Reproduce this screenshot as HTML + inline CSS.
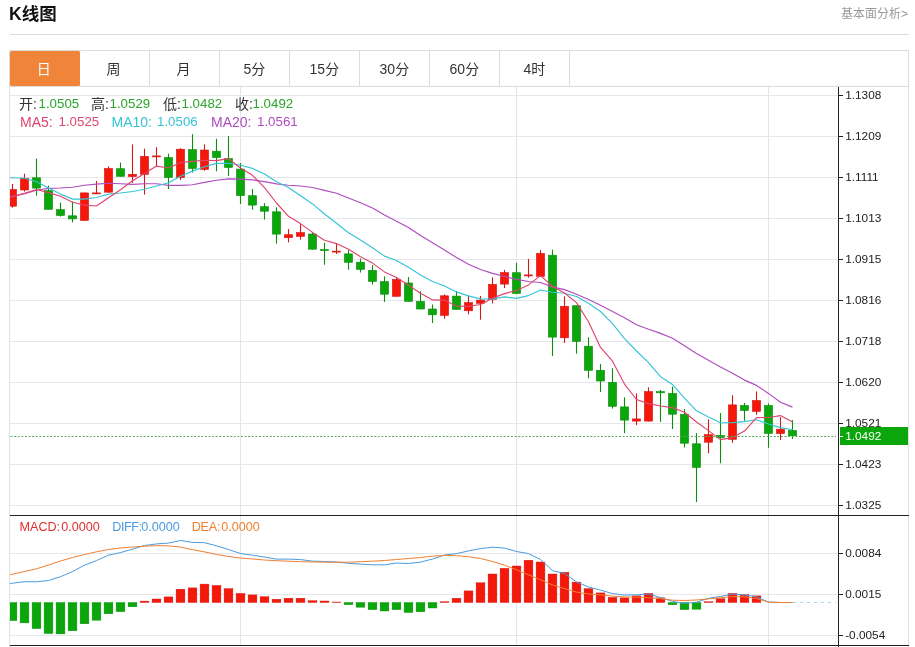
<!DOCTYPE html>
<html lang="zh-CN"><head><meta charset="utf-8"><title>K线图</title>
<style>
html,body{margin:0;padding:0;background:#fff}
body{width:915px;height:647px;position:relative;overflow:hidden;font-family:"Liberation Sans","Noto Sans CJK SC",sans-serif;color:#333}
.title{position:absolute;left:9px;top:2.2px;font-size:17.5px;font-weight:bold;color:#111;line-height:24px;white-space:nowrap}
.more{position:absolute;right:7px;top:5.5px;font-size:12px;color:#999;line-height:16px;white-space:nowrap}
.rule{position:absolute;left:10px;top:34px;width:899px;height:1px;background:#dcdcdc}
.tabs{position:absolute;left:9px;top:50px;width:898px;height:35px;border:1px solid #dcdcdc;}
.tab{position:absolute;top:0;width:69px;height:35px;border-right:1px solid #dcdcdc;text-align:center;line-height:36.4px;font-size:14px;color:#333}
.tab.on{background:#f0853a;color:#fff;left:0!important;top:-0.3px;width:69.5px;height:35.5px;border-right:0;border-radius:1.5px;line-height:37px}
.t{position:absolute;white-space:nowrap;line-height:16px;font-size:13.3px}
.c{font-size:14px}
.s{font-size:12.6px}
.g{color:#2aa52a}
</style></head><body>
<div class="title">K线图</div>
<div class="more">基本面分析&gt;</div>
<div class="rule"></div>
<svg width="915" height="647" viewBox="0 0 915 647" style="position:absolute;left:0;top:0">
<defs><clipPath id="cp"><rect x="10" y="87" width="828" height="560"/></clipPath></defs>
<g stroke="#e5e7ea" stroke-width="1" shape-rendering="crispEdges">
<line x1="10" y1="95.5" x2="838" y2="95.5"/>
<line x1="10" y1="136.5" x2="838" y2="136.5"/>
<line x1="10" y1="177.5" x2="838" y2="177.5"/>
<line x1="10" y1="218.5" x2="838" y2="218.5"/>
<line x1="10" y1="259.5" x2="838" y2="259.5"/>
<line x1="10" y1="300.5" x2="838" y2="300.5"/>
<line x1="10" y1="341.5" x2="838" y2="341.5"/>
<line x1="10" y1="382.5" x2="838" y2="382.5"/>
<line x1="10" y1="423.5" x2="838" y2="423.5"/>
<line x1="10" y1="464.5" x2="838" y2="464.5"/>
<line x1="10" y1="505.5" x2="838" y2="505.5"/>
<line x1="10" y1="553.5" x2="838" y2="553.5"/>
<line x1="10" y1="594.5" x2="838" y2="594.5"/>
<line x1="10" y1="635.5" x2="838" y2="635.5"/>
</g>
<g stroke="#e2e5ec" stroke-width="1" shape-rendering="crispEdges">
<line x1="240.5" y1="87" x2="240.5" y2="645"/>
<line x1="516.5" y1="87" x2="516.5" y2="645"/>
<line x1="768.5" y1="87" x2="768.5" y2="645"/>
</g>
<g stroke="#e2e2e2" stroke-width="1" shape-rendering="crispEdges"><line x1="9.5" y1="86" x2="9.5" y2="647"/><line x1="908.5" y1="50" x2="908.5" y2="647"/></g>
<g clip-path="url(#cp)">
<line x1="12.5" y1="184" x2="12.5" y2="207.7" stroke="#d81414" stroke-width="1.1"/>
<rect x="8.4" y="189.5" width="8.2" height="16.7" fill="#f3180a" stroke="#d81414" stroke-width="0.6"/>
<line x1="24.5" y1="173.7" x2="24.5" y2="191.5" stroke="#d81414" stroke-width="1.1"/>
<rect x="20.4" y="178.2" width="8.2" height="11.8" fill="#f3180a" stroke="#d81414" stroke-width="0.6"/>
<line x1="36.5" y1="158.6" x2="36.5" y2="195.7" stroke="#0a8f0a" stroke-width="1.1"/>
<rect x="32.4" y="177.8" width="8.2" height="10.3" fill="#0ba60b" stroke="#0a8f0a" stroke-width="0.6"/>
<line x1="48.5" y1="185.6" x2="48.5" y2="209.6" stroke="#0a8f0a" stroke-width="1.1"/>
<rect x="44.4" y="190.6" width="8.2" height="18.7" fill="#0ba60b" stroke="#0a8f0a" stroke-width="0.6"/>
<line x1="60.5" y1="202.6" x2="60.5" y2="216.6" stroke="#0a8f0a" stroke-width="1.1"/>
<rect x="56.4" y="209.6" width="8.2" height="5.9" fill="#0ba60b" stroke="#0a8f0a" stroke-width="0.6"/>
<line x1="72.5" y1="201.4" x2="72.5" y2="222.3" stroke="#0a8f0a" stroke-width="1.1"/>
<rect x="68.4" y="215.8" width="8.2" height="3.1" fill="#0ba60b" stroke="#0a8f0a" stroke-width="0.6"/>
<line x1="84.5" y1="192.6" x2="84.5" y2="220.7" stroke="#d81414" stroke-width="1.1"/>
<rect x="80.4" y="192.9" width="8.2" height="27.5" fill="#f3180a" stroke="#d81414" stroke-width="0.6"/>
<line x1="96.5" y1="181" x2="96.5" y2="194.1" stroke="#d81414" stroke-width="1.1"/>
<rect x="92.4" y="192.9" width="8.2" height="1" fill="#f3180a" stroke="#d81414" stroke-width="0.6"/>
<line x1="108.5" y1="166.3" x2="108.5" y2="192.5" stroke="#d81414" stroke-width="1.1"/>
<rect x="104.4" y="168.5" width="8.2" height="23.7" fill="#f3180a" stroke="#d81414" stroke-width="0.6"/>
<line x1="120.5" y1="162.5" x2="120.5" y2="176.6" stroke="#0a8f0a" stroke-width="1.1"/>
<rect x="116.4" y="168.7" width="8.2" height="7.6" fill="#0ba60b" stroke="#0a8f0a" stroke-width="0.6"/>
<line x1="132.5" y1="144.4" x2="132.5" y2="182.8" stroke="#d81414" stroke-width="1.1"/>
<rect x="128.4" y="174.3" width="8.2" height="2.3" fill="#f3180a" stroke="#d81414" stroke-width="0.6"/>
<line x1="144.5" y1="148.7" x2="144.5" y2="194.6" stroke="#d81414" stroke-width="1.1"/>
<rect x="140.4" y="156.4" width="8.2" height="18" fill="#f3180a" stroke="#d81414" stroke-width="0.6"/>
<line x1="156.5" y1="147.3" x2="156.5" y2="166" stroke="#d81414" stroke-width="1.1"/>
<rect x="152.4" y="155.9" width="8.2" height="1" fill="#f3180a" stroke="#d81414" stroke-width="0.6"/>
<line x1="168.5" y1="153.6" x2="168.5" y2="189" stroke="#0a8f0a" stroke-width="1.1"/>
<rect x="164.4" y="157.5" width="8.2" height="20" fill="#0ba60b" stroke="#0a8f0a" stroke-width="0.6"/>
<line x1="180.5" y1="148.3" x2="180.5" y2="180" stroke="#d81414" stroke-width="1.1"/>
<rect x="176.4" y="149.2" width="8.2" height="28.3" fill="#f3180a" stroke="#d81414" stroke-width="0.6"/>
<line x1="192.5" y1="134.2" x2="192.5" y2="172.6" stroke="#0a8f0a" stroke-width="1.1"/>
<rect x="188.4" y="149.6" width="8.2" height="18.9" fill="#0ba60b" stroke="#0a8f0a" stroke-width="0.6"/>
<line x1="204.5" y1="144.4" x2="204.5" y2="170.7" stroke="#d81414" stroke-width="1.1"/>
<rect x="200.4" y="150" width="8.2" height="19.4" fill="#f3180a" stroke="#d81414" stroke-width="0.6"/>
<line x1="216.5" y1="138.8" x2="216.5" y2="171.3" stroke="#0a8f0a" stroke-width="1.1"/>
<rect x="212.4" y="151.2" width="8.2" height="6.4" fill="#0ba60b" stroke="#0a8f0a" stroke-width="0.6"/>
<line x1="228.5" y1="136.1" x2="228.5" y2="175.9" stroke="#0a8f0a" stroke-width="1.1"/>
<rect x="224.4" y="158.5" width="8.2" height="8.9" fill="#0ba60b" stroke="#0a8f0a" stroke-width="0.6"/>
<line x1="240.5" y1="163" x2="240.5" y2="204" stroke="#0a8f0a" stroke-width="1.1"/>
<rect x="236.4" y="169.1" width="8.2" height="26.5" fill="#0ba60b" stroke="#0a8f0a" stroke-width="0.6"/>
<line x1="252.5" y1="189" x2="252.5" y2="209.7" stroke="#0a8f0a" stroke-width="1.1"/>
<rect x="248.4" y="195.7" width="8.2" height="9.4" fill="#0ba60b" stroke="#0a8f0a" stroke-width="0.6"/>
<line x1="264.5" y1="203.2" x2="264.5" y2="219.5" stroke="#0a8f0a" stroke-width="1.1"/>
<rect x="260.4" y="206.7" width="8.2" height="4.5" fill="#0ba60b" stroke="#0a8f0a" stroke-width="0.6"/>
<line x1="276.5" y1="207.3" x2="276.5" y2="243.6" stroke="#0a8f0a" stroke-width="1.1"/>
<rect x="272.4" y="211.8" width="8.2" height="22.3" fill="#0ba60b" stroke="#0a8f0a" stroke-width="0.6"/>
<line x1="288.5" y1="229.1" x2="288.5" y2="242.4" stroke="#d81414" stroke-width="1.1"/>
<rect x="284.4" y="234.7" width="8.2" height="3" fill="#f3180a" stroke="#d81414" stroke-width="0.6"/>
<line x1="300.5" y1="224.2" x2="300.5" y2="239.5" stroke="#d81414" stroke-width="1.1"/>
<rect x="296.4" y="232.6" width="8.2" height="3.8" fill="#f3180a" stroke="#d81414" stroke-width="0.6"/>
<line x1="312.5" y1="232.3" x2="312.5" y2="249.5" stroke="#0a8f0a" stroke-width="1.1"/>
<rect x="308.4" y="234" width="8.2" height="15.2" fill="#0ba60b" stroke="#0a8f0a" stroke-width="0.6"/>
<line x1="324.5" y1="242.7" x2="324.5" y2="264.7" stroke="#0a8f0a" stroke-width="1.1"/>
<rect x="320.4" y="249.6" width="8.2" height="1" fill="#0ba60b" stroke="#0a8f0a" stroke-width="0.6"/>
<line x1="336.5" y1="243.4" x2="336.5" y2="254" stroke="#d81414" stroke-width="1.1"/>
<rect x="332.4" y="251.1" width="8.2" height="1" fill="#f3180a" stroke="#d81414" stroke-width="0.6"/>
<line x1="348.5" y1="250.2" x2="348.5" y2="269.7" stroke="#0a8f0a" stroke-width="1.1"/>
<rect x="344.4" y="253.9" width="8.2" height="8.4" fill="#0ba60b" stroke="#0a8f0a" stroke-width="0.6"/>
<line x1="360.5" y1="258.6" x2="360.5" y2="272.5" stroke="#0a8f0a" stroke-width="1.1"/>
<rect x="356.4" y="262.2" width="8.2" height="7.2" fill="#0ba60b" stroke="#0a8f0a" stroke-width="0.6"/>
<line x1="372.5" y1="265.1" x2="372.5" y2="284.6" stroke="#0a8f0a" stroke-width="1.1"/>
<rect x="368.4" y="270.4" width="8.2" height="11" fill="#0ba60b" stroke="#0a8f0a" stroke-width="0.6"/>
<line x1="384.5" y1="276.3" x2="384.5" y2="301.9" stroke="#0a8f0a" stroke-width="1.1"/>
<rect x="380.4" y="281.6" width="8.2" height="12.6" fill="#0ba60b" stroke="#0a8f0a" stroke-width="0.6"/>
<line x1="396.5" y1="277.7" x2="396.5" y2="296.6" stroke="#d81414" stroke-width="1.1"/>
<rect x="392.4" y="279.4" width="8.2" height="16.9" fill="#f3180a" stroke="#d81414" stroke-width="0.6"/>
<line x1="408.5" y1="277" x2="408.5" y2="301.6" stroke="#0a8f0a" stroke-width="1.1"/>
<rect x="404.4" y="283" width="8.2" height="18.3" fill="#0ba60b" stroke="#0a8f0a" stroke-width="0.6"/>
<line x1="420.5" y1="291.2" x2="420.5" y2="309.3" stroke="#0a8f0a" stroke-width="1.1"/>
<rect x="416.4" y="301.5" width="8.2" height="7.5" fill="#0ba60b" stroke="#0a8f0a" stroke-width="0.6"/>
<line x1="432.5" y1="304.5" x2="432.5" y2="323" stroke="#0a8f0a" stroke-width="1.1"/>
<rect x="428.4" y="309" width="8.2" height="5.8" fill="#0ba60b" stroke="#0a8f0a" stroke-width="0.6"/>
<line x1="444.5" y1="294.5" x2="444.5" y2="318.7" stroke="#d81414" stroke-width="1.1"/>
<rect x="440.4" y="295.8" width="8.2" height="19.6" fill="#f3180a" stroke="#d81414" stroke-width="0.6"/>
<line x1="456.5" y1="291" x2="456.5" y2="309.7" stroke="#0a8f0a" stroke-width="1.1"/>
<rect x="452.4" y="296.1" width="8.2" height="13.3" fill="#0ba60b" stroke="#0a8f0a" stroke-width="0.6"/>
<line x1="468.5" y1="295.9" x2="468.5" y2="314.3" stroke="#d81414" stroke-width="1.1"/>
<rect x="464.4" y="302.6" width="8.2" height="8.2" fill="#f3180a" stroke="#d81414" stroke-width="0.6"/>
<line x1="480.5" y1="295.9" x2="480.5" y2="319.7" stroke="#d81414" stroke-width="1.1"/>
<rect x="476.4" y="300.1" width="8.2" height="3.2" fill="#f3180a" stroke="#d81414" stroke-width="0.6"/>
<line x1="492.5" y1="277.3" x2="492.5" y2="303.3" stroke="#d81414" stroke-width="1.1"/>
<rect x="488.4" y="284.4" width="8.2" height="15.1" fill="#f3180a" stroke="#d81414" stroke-width="0.6"/>
<line x1="504.5" y1="269.9" x2="504.5" y2="288.1" stroke="#d81414" stroke-width="1.1"/>
<rect x="500.4" y="272.6" width="8.2" height="11.5" fill="#f3180a" stroke="#d81414" stroke-width="0.6"/>
<line x1="516.5" y1="262.8" x2="516.5" y2="293.8" stroke="#0a8f0a" stroke-width="1.1"/>
<rect x="512.4" y="272.7" width="8.2" height="20.8" fill="#0ba60b" stroke="#0a8f0a" stroke-width="0.6"/>
<line x1="528.5" y1="258.9" x2="528.5" y2="277.7" stroke="#d81414" stroke-width="1.1"/>
<rect x="524.4" y="274.9" width="8.2" height="1" fill="#f3180a" stroke="#d81414" stroke-width="0.6"/>
<line x1="540.5" y1="250" x2="540.5" y2="276.7" stroke="#d81414" stroke-width="1.1"/>
<rect x="536.4" y="253.4" width="8.2" height="23" fill="#f3180a" stroke="#d81414" stroke-width="0.6"/>
<line x1="552.5" y1="249.7" x2="552.5" y2="355.9" stroke="#0a8f0a" stroke-width="1.1"/>
<rect x="548.4" y="255.2" width="8.2" height="81.9" fill="#0ba60b" stroke="#0a8f0a" stroke-width="0.6"/>
<line x1="564.5" y1="296.4" x2="564.5" y2="342.9" stroke="#d81414" stroke-width="1.1"/>
<rect x="560.4" y="306.3" width="8.2" height="31.5" fill="#f3180a" stroke="#d81414" stroke-width="0.6"/>
<line x1="576.5" y1="305.4" x2="576.5" y2="353.7" stroke="#0a8f0a" stroke-width="1.1"/>
<rect x="572.4" y="305.7" width="8.2" height="35.7" fill="#0ba60b" stroke="#0a8f0a" stroke-width="0.6"/>
<line x1="588.5" y1="337.2" x2="588.5" y2="378.2" stroke="#0a8f0a" stroke-width="1.1"/>
<rect x="584.4" y="346.2" width="8.2" height="24.1" fill="#0ba60b" stroke="#0a8f0a" stroke-width="0.6"/>
<line x1="600.5" y1="364.1" x2="600.5" y2="392" stroke="#0a8f0a" stroke-width="1.1"/>
<rect x="596.4" y="370.3" width="8.2" height="10.7" fill="#0ba60b" stroke="#0a8f0a" stroke-width="0.6"/>
<line x1="612.5" y1="368.2" x2="612.5" y2="408.6" stroke="#0a8f0a" stroke-width="1.1"/>
<rect x="608.4" y="382.3" width="8.2" height="24" fill="#0ba60b" stroke="#0a8f0a" stroke-width="0.6"/>
<line x1="624.5" y1="397.4" x2="624.5" y2="433.2" stroke="#0a8f0a" stroke-width="1.1"/>
<rect x="620.4" y="406.9" width="8.2" height="13.2" fill="#0ba60b" stroke="#0a8f0a" stroke-width="0.6"/>
<line x1="636.5" y1="393.4" x2="636.5" y2="425.1" stroke="#d81414" stroke-width="1.1"/>
<rect x="632.4" y="418.9" width="8.2" height="2.2" fill="#f3180a" stroke="#d81414" stroke-width="0.6"/>
<line x1="648.5" y1="387.4" x2="648.5" y2="421.4" stroke="#d81414" stroke-width="1.1"/>
<rect x="644.4" y="391.6" width="8.2" height="29.5" fill="#f3180a" stroke="#d81414" stroke-width="0.6"/>
<line x1="660.5" y1="389.9" x2="660.5" y2="421.9" stroke="#0a8f0a" stroke-width="1.1"/>
<rect x="656.4" y="391.6" width="8.2" height="1.2" fill="#0ba60b" stroke="#0a8f0a" stroke-width="0.6"/>
<line x1="672.5" y1="386.6" x2="672.5" y2="429" stroke="#0a8f0a" stroke-width="1.1"/>
<rect x="668.4" y="393.4" width="8.2" height="20.8" fill="#0ba60b" stroke="#0a8f0a" stroke-width="0.6"/>
<line x1="684.5" y1="409" x2="684.5" y2="447.5" stroke="#0a8f0a" stroke-width="1.1"/>
<rect x="680.4" y="414.3" width="8.2" height="28.9" fill="#0ba60b" stroke="#0a8f0a" stroke-width="0.6"/>
<line x1="696.5" y1="433.1" x2="696.5" y2="502.1" stroke="#0a8f0a" stroke-width="1.1"/>
<rect x="692.4" y="443.8" width="8.2" height="23.6" fill="#0ba60b" stroke="#0a8f0a" stroke-width="0.6"/>
<line x1="708.5" y1="419.4" x2="708.5" y2="453.3" stroke="#d81414" stroke-width="1.1"/>
<rect x="704.4" y="434.6" width="8.2" height="7.6" fill="#f3180a" stroke="#d81414" stroke-width="0.6"/>
<line x1="720.5" y1="413.1" x2="720.5" y2="463.2" stroke="#0a8f0a" stroke-width="1.1"/>
<rect x="716.4" y="435.3" width="8.2" height="2.4" fill="#0ba60b" stroke="#0a8f0a" stroke-width="0.6"/>
<line x1="732.5" y1="395.3" x2="732.5" y2="442.8" stroke="#d81414" stroke-width="1.1"/>
<rect x="728.4" y="404.9" width="8.2" height="34.4" fill="#f3180a" stroke="#d81414" stroke-width="0.6"/>
<line x1="744.5" y1="403" x2="744.5" y2="420.8" stroke="#0a8f0a" stroke-width="1.1"/>
<rect x="740.4" y="405.5" width="8.2" height="5" fill="#0ba60b" stroke="#0a8f0a" stroke-width="0.6"/>
<line x1="756.5" y1="391.4" x2="756.5" y2="414.8" stroke="#d81414" stroke-width="1.1"/>
<rect x="752.4" y="400.5" width="8.2" height="10.9" fill="#f3180a" stroke="#d81414" stroke-width="0.6"/>
<line x1="768.5" y1="403.4" x2="768.5" y2="447.8" stroke="#0a8f0a" stroke-width="1.1"/>
<rect x="764.4" y="405.5" width="8.2" height="27.9" fill="#0ba60b" stroke="#0a8f0a" stroke-width="0.6"/>
<line x1="780.5" y1="417.2" x2="780.5" y2="440" stroke="#d81414" stroke-width="1.1"/>
<rect x="776.4" y="429.2" width="8.2" height="4.4" fill="#f3180a" stroke="#d81414" stroke-width="0.6"/>
<line x1="792.5" y1="420.1" x2="792.5" y2="439" stroke="#0a8f0a" stroke-width="1.1"/>
<rect x="788.4" y="430.5" width="8.2" height="5.3" fill="#0ba60b" stroke="#0a8f0a" stroke-width="0.6"/>
<polyline fill="none" stroke="#b04cc0" stroke-width="1.15" stroke-linejoin="round" points="10,197.2 12.5,196.5 24.5,193.7 36.5,190.3 48.5,188.4 60.5,188 72.5,187.2 84.5,185.3 96.5,184.1 108.5,183.3 120.5,183.7 132.5,184.4 144.5,183.7 156.5,183.7 168.5,185.4 180.5,185.4 192.5,184.8 204.5,182.4 216.5,180.2 228.5,178.9 240.5,179.1 252.5,179.9 264.5,181.6 276.5,183.9 288.5,185.2 300.5,186 312.5,187.5 324.5,190.4 336.5,193.3 348.5,198 360.5,202.7 372.5,208.1 384.5,215 396.5,221.2 408.5,227.4 420.5,235.4 432.5,242.7 444.5,250 456.5,257.6 468.5,264.3 480.5,269.5 492.5,273.4 504.5,276.5 516.5,279.4 528.5,281.5 540.5,282.5 552.5,286.9 564.5,289.6 576.5,294.2 588.5,299.6 600.5,305.2 612.5,311.4 624.5,317.7 636.5,324.7 648.5,329.2 660.5,333.4 672.5,338.3 684.5,345.7 696.5,353.6 708.5,360.2 720.5,367.1 732.5,373.2 744.5,380.1 756.5,385.4 768.5,393.4 780.5,402.2 792.5,407.1"/>
<polyline fill="none" stroke="#35c4d8" stroke-width="1.15" stroke-linejoin="round" points="10,177.6 12.5,177.7 24.5,178.2 36.5,181.8 48.5,188 60.5,194.1 72.5,199.1 84.5,199.1 96.5,197.5 108.5,194.1 120.5,193 132.5,191.5 144.5,189.3 156.5,186 168.5,182.8 180.5,176.2 192.5,171.1 204.5,166.8 216.5,163.4 228.5,163.3 240.5,165.2 252.5,168.4 264.5,173.9 276.5,181.8 288.5,187.5 300.5,195.8 312.5,203.9 324.5,214 336.5,223.3 348.5,232.8 360.5,240.1 372.5,247.8 384.5,256.1 396.5,260.5 408.5,267.3 420.5,275 432.5,281.5 444.5,286 456.5,291.9 468.5,295.9 480.5,298.9 492.5,299.1 504.5,296.9 516.5,298.4 528.5,295.6 540.5,290 552.5,292.3 564.5,293.3 576.5,296.5 588.5,303.3 600.5,311.5 612.5,323.7 624.5,338.6 636.5,351 648.5,362.7 660.5,376.7 672.5,384.4 684.5,398.2 696.5,410.8 708.5,417.1 720.5,422.8 732.5,422.6 744.5,421.6 756.5,419.8 768.5,424 780.5,427.6 792.5,429.8"/>
<polyline fill="none" stroke="#e0456f" stroke-width="1.15" stroke-linejoin="round" points="10,197.2 12.5,196.5 24.5,193.4 36.5,189.5 48.5,192.6 60.5,196.2 72.5,202.2 84.5,205.1 96.5,206 108.5,197.7 120.5,189.8 132.5,180.8 144.5,173.5 156.5,166.1 168.5,168 180.5,162.5 192.5,161.4 204.5,160.2 216.5,160.6 228.5,158.6 240.5,168 252.5,175.3 264.5,187.7 276.5,203 288.5,216.3 300.5,223.6 312.5,232.4 324.5,240.3 336.5,243.6 348.5,249.2 360.5,256.7 372.5,263.1 384.5,271.9 396.5,277.5 408.5,285.3 420.5,293.2 432.5,299.9 444.5,300.1 456.5,306.2 468.5,306.4 480.5,304.5 492.5,298.3 504.5,293.6 516.5,290.5 528.5,284.9 540.5,275.6 552.5,286.2 564.5,293 576.5,302.6 588.5,321.8 600.5,347.4 612.5,361.2 624.5,384.1 636.5,399.5 648.5,403.6 660.5,406 672.5,407.6 684.5,412.2 696.5,422 708.5,430.6 720.5,439.6 732.5,437.6 744.5,431.1 756.5,417.6 768.5,417.5 780.5,415.6 792.5,421.9"/>
<rect x="8.1" y="602.5" width="8.8" height="18.1" fill="#0ba60b" stroke="#0a8f0a" stroke-width="0.4"/>
<rect x="20.1" y="602.5" width="8.8" height="20.4" fill="#0ba60b" stroke="#0a8f0a" stroke-width="0.4"/>
<rect x="32.1" y="602.5" width="8.8" height="26.1" fill="#0ba60b" stroke="#0a8f0a" stroke-width="0.4"/>
<rect x="44.1" y="602.5" width="8.8" height="31" fill="#0ba60b" stroke="#0a8f0a" stroke-width="0.4"/>
<rect x="56.1" y="602.5" width="8.8" height="31.4" fill="#0ba60b" stroke="#0a8f0a" stroke-width="0.4"/>
<rect x="68.1" y="602.5" width="8.8" height="28.3" fill="#0ba60b" stroke="#0a8f0a" stroke-width="0.4"/>
<rect x="80.1" y="602.5" width="8.8" height="21.3" fill="#0ba60b" stroke="#0a8f0a" stroke-width="0.4"/>
<rect x="92.1" y="602.5" width="8.8" height="17.7" fill="#0ba60b" stroke="#0a8f0a" stroke-width="0.4"/>
<rect x="104.1" y="602.5" width="8.8" height="11.3" fill="#0ba60b" stroke="#0a8f0a" stroke-width="0.4"/>
<rect x="116.1" y="602.5" width="8.8" height="9.2" fill="#0ba60b" stroke="#0a8f0a" stroke-width="0.4"/>
<rect x="128.1" y="602.5" width="8.8" height="4.3" fill="#0ba60b" stroke="#0a8f0a" stroke-width="0.4"/>
<rect x="140.1" y="601.1" width="8.8" height="1.4" fill="#f3180a" stroke="#d81414" stroke-width="0.4"/>
<rect x="152.1" y="599" width="8.8" height="3.5" fill="#f3180a" stroke="#d81414" stroke-width="0.4"/>
<rect x="164.1" y="596.9" width="8.8" height="5.6" fill="#f3180a" stroke="#d81414" stroke-width="0.4"/>
<rect x="176.1" y="589.2" width="8.8" height="13.3" fill="#f3180a" stroke="#d81414" stroke-width="0.4"/>
<rect x="188.1" y="587.9" width="8.8" height="14.6" fill="#f3180a" stroke="#d81414" stroke-width="0.4"/>
<rect x="200.1" y="584.1" width="8.8" height="18.4" fill="#f3180a" stroke="#d81414" stroke-width="0.4"/>
<rect x="212.1" y="585.4" width="8.8" height="17.1" fill="#f3180a" stroke="#d81414" stroke-width="0.4"/>
<rect x="224.1" y="588.6" width="8.8" height="13.9" fill="#f3180a" stroke="#d81414" stroke-width="0.4"/>
<rect x="236.1" y="593.4" width="8.8" height="9.1" fill="#f3180a" stroke="#d81414" stroke-width="0.4"/>
<rect x="248.1" y="594.9" width="8.8" height="7.6" fill="#f3180a" stroke="#d81414" stroke-width="0.4"/>
<rect x="260.1" y="596.7" width="8.8" height="5.8" fill="#f3180a" stroke="#d81414" stroke-width="0.4"/>
<rect x="272.1" y="599.2" width="8.8" height="3.3" fill="#f3180a" stroke="#d81414" stroke-width="0.4"/>
<rect x="284.1" y="598.2" width="8.8" height="4.3" fill="#f3180a" stroke="#d81414" stroke-width="0.4"/>
<rect x="296.1" y="598.2" width="8.8" height="4.3" fill="#f3180a" stroke="#d81414" stroke-width="0.4"/>
<rect x="308.1" y="600.7" width="8.8" height="1.8" fill="#f3180a" stroke="#d81414" stroke-width="0.4"/>
<rect x="320.1" y="601" width="8.8" height="1.5" fill="#f3180a" stroke="#d81414" stroke-width="0.4"/>
<rect x="332.1" y="602" width="8.8" height="0.5" fill="#f3180a" stroke="#d81414" stroke-width="0.4"/>
<rect x="344.1" y="602.5" width="8.8" height="2.2" fill="#0ba60b" stroke="#0a8f0a" stroke-width="0.4"/>
<rect x="356.1" y="602.5" width="8.8" height="4.7" fill="#0ba60b" stroke="#0a8f0a" stroke-width="0.4"/>
<rect x="368.1" y="602.5" width="8.8" height="7.2" fill="#0ba60b" stroke="#0a8f0a" stroke-width="0.4"/>
<rect x="380.1" y="602.5" width="8.8" height="8.5" fill="#0ba60b" stroke="#0a8f0a" stroke-width="0.4"/>
<rect x="392.1" y="602.5" width="8.8" height="7.2" fill="#0ba60b" stroke="#0a8f0a" stroke-width="0.4"/>
<rect x="404.1" y="602.5" width="8.8" height="10" fill="#0ba60b" stroke="#0a8f0a" stroke-width="0.4"/>
<rect x="416.1" y="602.5" width="8.8" height="9.3" fill="#0ba60b" stroke="#0a8f0a" stroke-width="0.4"/>
<rect x="428.1" y="602.5" width="8.8" height="5.5" fill="#0ba60b" stroke="#0a8f0a" stroke-width="0.4"/>
<rect x="440.1" y="601.7" width="8.8" height="0.8" fill="#f3180a" stroke="#d81414" stroke-width="0.4"/>
<rect x="452.1" y="598.2" width="8.8" height="4.3" fill="#f3180a" stroke="#d81414" stroke-width="0.4"/>
<rect x="464.1" y="590.9" width="8.8" height="11.6" fill="#f3180a" stroke="#d81414" stroke-width="0.4"/>
<rect x="476.1" y="582.8" width="8.8" height="19.7" fill="#f3180a" stroke="#d81414" stroke-width="0.4"/>
<rect x="488.1" y="574" width="8.8" height="28.5" fill="#f3180a" stroke="#d81414" stroke-width="0.4"/>
<rect x="500.1" y="568.3" width="8.8" height="34.2" fill="#f3180a" stroke="#d81414" stroke-width="0.4"/>
<rect x="512.1" y="566" width="8.8" height="36.5" fill="#f3180a" stroke="#d81414" stroke-width="0.4"/>
<rect x="524.1" y="560.2" width="8.8" height="42.3" fill="#f3180a" stroke="#d81414" stroke-width="0.4"/>
<rect x="536.1" y="562" width="8.8" height="40.5" fill="#f3180a" stroke="#d81414" stroke-width="0.4"/>
<rect x="548.1" y="574" width="8.8" height="28.5" fill="#f3180a" stroke="#d81414" stroke-width="0.4"/>
<rect x="560.1" y="572.3" width="8.8" height="30.2" fill="#f3180a" stroke="#d81414" stroke-width="0.4"/>
<rect x="572.1" y="582.1" width="8.8" height="20.4" fill="#f3180a" stroke="#d81414" stroke-width="0.4"/>
<rect x="584.1" y="588.6" width="8.8" height="13.9" fill="#f3180a" stroke="#d81414" stroke-width="0.4"/>
<rect x="596.1" y="592.9" width="8.8" height="9.6" fill="#f3180a" stroke="#d81414" stroke-width="0.4"/>
<rect x="608.1" y="597.4" width="8.8" height="5.1" fill="#f3180a" stroke="#d81414" stroke-width="0.4"/>
<rect x="620.1" y="597.9" width="8.8" height="4.6" fill="#f3180a" stroke="#d81414" stroke-width="0.4"/>
<rect x="632.1" y="595.9" width="8.8" height="6.6" fill="#f3180a" stroke="#d81414" stroke-width="0.4"/>
<rect x="644.1" y="593.4" width="8.8" height="9.1" fill="#f3180a" stroke="#d81414" stroke-width="0.4"/>
<rect x="656.1" y="597.9" width="8.8" height="4.6" fill="#f3180a" stroke="#d81414" stroke-width="0.4"/>
<rect x="668.1" y="602.5" width="8.8" height="2.2" fill="#0ba60b" stroke="#0a8f0a" stroke-width="0.4"/>
<rect x="680.1" y="602.5" width="8.8" height="7.2" fill="#0ba60b" stroke="#0a8f0a" stroke-width="0.4"/>
<rect x="692.1" y="602.5" width="8.8" height="6.7" fill="#0ba60b" stroke="#0a8f0a" stroke-width="0.4"/>
<rect x="704.1" y="601.7" width="8.8" height="0.8" fill="#f3180a" stroke="#d81414" stroke-width="0.4"/>
<rect x="716.1" y="598.7" width="8.8" height="3.8" fill="#f3180a" stroke="#d81414" stroke-width="0.4"/>
<rect x="728.1" y="593.4" width="8.8" height="9.1" fill="#f3180a" stroke="#d81414" stroke-width="0.4"/>
<rect x="740.1" y="594.7" width="8.8" height="7.8" fill="#f3180a" stroke="#d81414" stroke-width="0.4"/>
<rect x="752.1" y="595.9" width="8.8" height="6.6" fill="#f3180a" stroke="#d81414" stroke-width="0.4"/>
<polyline fill="none" stroke="#4a9be0" stroke-width="1" stroke-linejoin="round" points="10,583.7 12.5,583.2 24.5,581.7 36.5,581.8 48.5,580.5 60.5,576.7 72.5,571.6 84.5,565.1 96.5,560.6 108.5,555.1 120.5,552.6 132.5,549.1 144.5,545.5 156.5,543.9 168.5,543.1 180.5,540.5 192.5,542.4 204.5,542.7 216.5,545.8 228.5,549.5 240.5,553.5 252.5,555.2 264.5,557.1 276.5,559.1 288.5,559.1 300.5,559.6 312.5,561.1 324.5,561.5 336.5,562 348.5,563.3 360.5,564.1 372.5,564.8 384.5,564.8 396.5,563.1 408.5,563.5 420.5,562.1 432.5,559 444.5,555 456.5,553.6 468.5,550.9 480.5,548.6 492.5,547.2 504.5,548.1 516.5,551.5 528.5,553.6 540.5,559.5 552.5,570.6 564.5,573.5 576.5,581.9 588.5,587 600.5,590.1 612.5,593.6 624.5,595.1 636.5,594.8 648.5,594 660.5,597.5 672.5,601.4 684.5,603.4 696.5,602.2 708.5,598.3 720.5,596.5 732.5,594 744.5,595 756.5,596.8 768.5,602.1 780.5,602.5 792.5,602.5"/>
<polyline fill="none" stroke="#f08030" stroke-width="1" stroke-linejoin="round" points="10,574.6 12.5,574.2 24.5,571.5 36.5,568.8 48.5,565 60.5,561 72.5,557.5 84.5,554.5 96.5,551.8 108.5,549.5 120.5,548 132.5,547 144.5,546.2 156.5,545.6 168.5,545.9 180.5,547.1 192.5,549.7 204.5,551.9 216.5,554.4 228.5,556.5 240.5,558 252.5,559 264.5,560 276.5,560.7 288.5,561.2 300.5,561.7 312.5,562 324.5,562.2 336.5,562.2 348.5,562.2 360.5,561.7 372.5,561.2 384.5,560.5 396.5,559.5 408.5,558.5 420.5,557.5 432.5,556.2 444.5,555.4 456.5,555.7 468.5,556.7 480.5,558.5 492.5,561.5 504.5,565.2 516.5,569.8 528.5,574.8 540.5,579.8 552.5,584.9 564.5,588.6 576.5,592.1 588.5,593.9 600.5,594.9 612.5,596.2 624.5,596.9 636.5,597.2 648.5,597.7 660.5,598.7 672.5,600.2 684.5,600.5 696.5,600 708.5,598.9 720.5,597.7 732.5,596.6 744.5,596.8 756.5,598.6 768.5,602.1 780.5,602.5 792.5,602.5"/>
</g>
<line x1="10.6" y1="436.5" x2="836" y2="436.5" stroke="#55a855" stroke-width="1" stroke-dasharray="1.9 1.7"/>
<line x1="793" y1="602.5" x2="836" y2="602.5" stroke="#a8d4ee" stroke-width="1" stroke-dasharray="3 4" shape-rendering="crispEdges"/>
<g stroke="#222" stroke-width="1" shape-rendering="crispEdges">
<line x1="838.5" y1="87" x2="838.5" y2="647"/>
<line x1="10" y1="515.5" x2="909" y2="515.5"/>
<line x1="10" y1="645.5" x2="909" y2="645.5"/>
<line x1="838" y1="95.5" x2="843" y2="95.5"/>
<line x1="838" y1="136.5" x2="843" y2="136.5"/>
<line x1="838" y1="177.5" x2="843" y2="177.5"/>
<line x1="838" y1="218.5" x2="843" y2="218.5"/>
<line x1="838" y1="259.5" x2="843" y2="259.5"/>
<line x1="838" y1="300.5" x2="843" y2="300.5"/>
<line x1="838" y1="341.5" x2="843" y2="341.5"/>
<line x1="838" y1="382.5" x2="843" y2="382.5"/>
<line x1="838" y1="423.5" x2="843" y2="423.5"/>
<line x1="838" y1="464.5" x2="843" y2="464.5"/>
<line x1="838" y1="505.5" x2="843" y2="505.5"/>
<line x1="838" y1="553.5" x2="843" y2="553.5"/>
<line x1="838" y1="594.5" x2="843" y2="594.5"/>
<line x1="838" y1="635.5" x2="843" y2="635.5"/>
</g>
<g font-family="'Liberation Sans',sans-serif" font-size="11.8" fill="#222">
<text x="845.2" y="99.4">1.1308</text>
<text x="845.2" y="140.4">1.1209</text>
<text x="845.2" y="181.4">1.1111</text>
<text x="845.2" y="222.4">1.1013</text>
<text x="845.2" y="263.4">1.0915</text>
<text x="845.2" y="304.4">1.0816</text>
<text x="845.2" y="345.4">1.0718</text>
<text x="845.2" y="386.4">1.0620</text>
<text x="845.2" y="427.4">1.0521</text>
<text x="845.2" y="468.4">1.0423</text>
<text x="845.2" y="509.4">1.0325</text>
<text x="845.2" y="557.4">0.0084</text>
<text x="845.2" y="598.4">0.0015</text>
<text x="845.2" y="639.4">-0.0054</text>
</g>
<rect x="840" y="427" width="68" height="18" fill="#0ba60b"/>
<line x1="840" y1="436.5" x2="843" y2="436.5" stroke="#fff" stroke-width="1" shape-rendering="crispEdges"/>
<text x="845.2" y="440.4" font-family="'Liberation Sans',sans-serif" font-size="11.8" fill="#fff">1.0492</text>
</svg>
<div class="tabs"><div class="tab on" style="left:0px;text-indent:-2px">日</div><div class="tab" style="left:70px;text-indent:-2px">周</div><div class="tab" style="left:140px;text-indent:-2px">月</div><div class="tab" style="left:210px;text-indent:-0.3px">5分</div><div class="tab" style="left:280px;text-indent:-0.3px">15分</div><div class="tab" style="left:350px;text-indent:-0.3px">30分</div><div class="tab" style="left:420px;text-indent:-0.3px">60分</div><div class="tab" style="left:490px;text-indent:-0.3px">4时</div></div>
<span class="t c" style="left:19px;top:95.5px">开:</span><span class="t g" style="left:38.5px;top:95.5px">1.0505</span>
<span class="t c" style="left:91px;top:95.5px">高:</span><span class="t g" style="left:109.5px;top:95.5px">1.0529</span>
<span class="t c" style="left:163px;top:95.5px">低:</span><span class="t g" style="left:181.5px;top:95.5px">1.0482</span>
<span class="t c" style="left:235px;top:95.5px">收:</span><span class="t g" style="left:252.5px;top:95.5px">1.0492</span>
<span class="t c" style="left:20px;top:113.5px;color:#e0456f">MA5:</span><span class="t" style="left:58.5px;top:113.5px;color:#e0456f">1.0525</span>
<span class="t c" style="left:111.5px;top:113.5px;color:#35c4d8">MA10:</span><span class="t" style="left:157px;top:113.5px;color:#35c4d8">1.0506</span>
<span class="t c" style="left:211px;top:113.5px;color:#b04cc0">MA20:</span><span class="t" style="left:257px;top:113.5px;color:#b04cc0">1.0561</span>
<span class="t s" style="left:19.5px;top:518.5px;color:#e03030">MACD:</span><span class="t s" style="left:61.3px;top:518.5px;color:#e03030">0.0000</span>
<span class="t s" style="left:112.2px;top:518.5px;color:#4a9be0;letter-spacing:-0.4px">DIFF:</span><span class="t s" style="left:141.3px;top:518.5px;color:#4a9be0">0.0000</span>
<span class="t s" style="left:191.7px;top:518.5px;color:#f08030;letter-spacing:-0.2px">DEA:</span><span class="t s" style="left:221.3px;top:518.5px;color:#f08030">0.0000</span>
</body></html>
